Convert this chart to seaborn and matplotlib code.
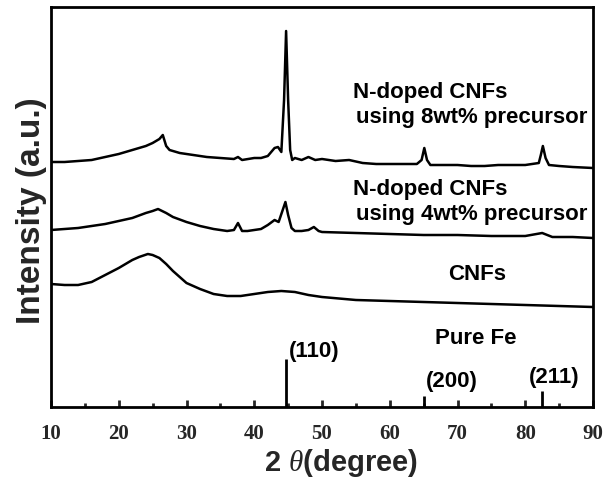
import numpy as np
import pandas as pd
import matplotlib
matplotlib.use("Agg")
import matplotlib.pyplot as plt
import seaborn as sns

# ---- data (2theta in degree, intensity in a.u.) ----
tt_8wt = [10, 12, 14, 16, 18, 20, 22, 24, 25, 26, 26.5, 27, 27.5, 29, 31, 33, 35, 37, 37.6,
          38.2, 40, 41, 42, 43, 43.5, 44, 44.4, 44.7, 45.0, 45.3, 45.6, 46, 47, 48, 49, 50, 52,
          54, 56, 58, 60, 62, 64, 64.7, 65.1, 65.5, 66, 68, 70, 72, 74, 76, 78, 80, 82, 82.3,
          82.6, 83.0, 83.5, 85, 87, 90]
int_8wt = [245, 245, 246, 247, 250, 253, 257, 261, 264, 268, 272, 261, 257, 254, 252, 250, 249,
           248, 250, 247, 249, 249, 251, 259, 260, 255, 307, 376, 307, 257, 247, 249, 247, 250,
           247, 248, 246, 247, 244, 243, 243, 243, 243, 247, 259, 247, 242, 242, 242, 241, 241,
           242, 242, 242, 244, 252, 261, 249, 242, 241, 240, 239]

tt_4wt = [10, 12, 14, 16, 18, 20, 22, 24, 25, 25.8, 27, 28, 30, 32, 34, 35, 36, 37, 37.6, 38.2,
          39, 40, 41, 42, 43, 43.6, 44.2, 44.6, 45.0, 45.5, 46, 47, 48, 48.8, 49.5, 50, 55, 60,
          65, 70, 75, 80, 82.5, 84, 87, 90]
int_4wt = [177, 178, 179, 181, 183, 186, 189, 194, 196, 198, 194, 190, 185, 181, 178, 177, 176,
           177, 184, 176, 176, 177, 178, 182, 187, 185, 197, 205, 192, 179, 176, 176, 177, 180,
           176, 175, 174, 173, 172, 172, 171, 171, 174, 170, 170, 169]

tt_cnf = [10, 12, 14, 16, 18, 20, 22, 23, 24.3, 25, 26, 27, 28, 29, 30, 32, 34, 36, 38, 40, 42,
          44, 46, 48, 50, 55, 60, 65, 70, 75, 80, 85, 90]
int_cnf = [123, 122, 122, 125, 132, 139, 147, 150, 153, 152, 149, 143, 136, 130, 124, 118, 113,
           111, 111, 113, 115, 116, 115, 112, 110, 107, 106, 105, 104, 103, 102, 101, 100]

# Pure Fe reference lines
fe_pos = [44.7, 65.0, 82.4]
fe_int = [48, 11, 16]
fe_hkl = ["(110)", "(200)", "(211)"]

x_ticks = [10, 20, 30, 40, 50, 60, 70, 80, 90]
x_ticklabels = ["10", "20", "30", "40", "50", "60", "70", "80", "90"]

df = pd.concat([
    pd.DataFrame({"2theta": tt_8wt, "I": int_8wt, "sample": "8wt"}),
    pd.DataFrame({"2theta": tt_4wt, "I": int_4wt, "sample": "4wt"}),
    pd.DataFrame({"2theta": tt_cnf, "I": int_cnf, "sample": "CNFs"}),
])

sns.set_style("ticks")
plt.rcParams["font.family"] = ["Liberation Sans", "DejaVu Sans"]
plt.rcParams["mathtext.fontset"] = "custom"
plt.rcParams["mathtext.it"] = "Liberation Serif:italic"

fig = plt.figure(figsize=(6.06, 4.79), dpi=100)
ax = fig.add_axes([51 / 606, 72 / 479, 542 / 606, 400 / 479])

sns.lineplot(data=df, x="2theta", y="I", hue="sample", units="sample", estimator=None,
             sort=False, palette=["black"] * 3, linewidth=1.8, legend=False, ax=ax)
ax.vlines(fe_pos, 0, fe_int, color="black", linewidth=2)

ax.set_xlim(10, 90)
ax.set_ylim(0, 400)

txt = dict(fontsize=16, fontweight="bold", color="black")
ax.text(54.6, 309, "N-doped CNFs", ha="left", va="baseline", **txt)
ax.text(55.0, 284, "using 8wt% precursor", ha="left", va="baseline", **txt)
ax.text(54.6, 212, "N-doped CNFs", ha="left", va="baseline", **txt)
ax.text(55.0, 187, "using 4wt% precursor", ha="left", va="baseline", **txt)
ax.text(72.9, 127, "CNFs", ha="center", va="baseline", **txt)
ax.text(72.7, 63, "Pure Fe", ha="center", va="baseline", **txt)
for p, h, lab in zip(fe_pos, fe_int, fe_hkl):
    ax.text(p + 0.4 if lab != "(211)" else p - 1.8, h + 7 if lab == "(110)" else h + 14,
            lab, ha="left", va="center", **txt)

ax.set_xticks(x_ticks)
ax.set_xticklabels(x_ticklabels, fontfamily="Liberation Serif", fontweight="bold", fontsize=15)
ax.set_xticks([15, 25, 35, 45, 55, 65, 75, 85], minor=True)
ax.set_yticks([])
ax.tick_params(axis="x", which="major", direction="in", length=5, width=2, pad=12, top=False)
ax.tick_params(axis="x", which="minor", direction="in", length=3, width=2, top=False)
for s in ax.spines.values():
    s.set_linewidth(2)
    s.set_color("black")

ax.set_xlabel(r"2 $\theta$(degree)", fontsize=21, fontweight="bold")
ax.xaxis.set_label_coords(0.535, -0.1)
ax.set_ylabel("Intensity (a.u.)", fontsize=24, fontweight="bold")
ax.yaxis.set_label_coords(-0.008, 0.49)

fig.savefig("out.png", dpi=100)
